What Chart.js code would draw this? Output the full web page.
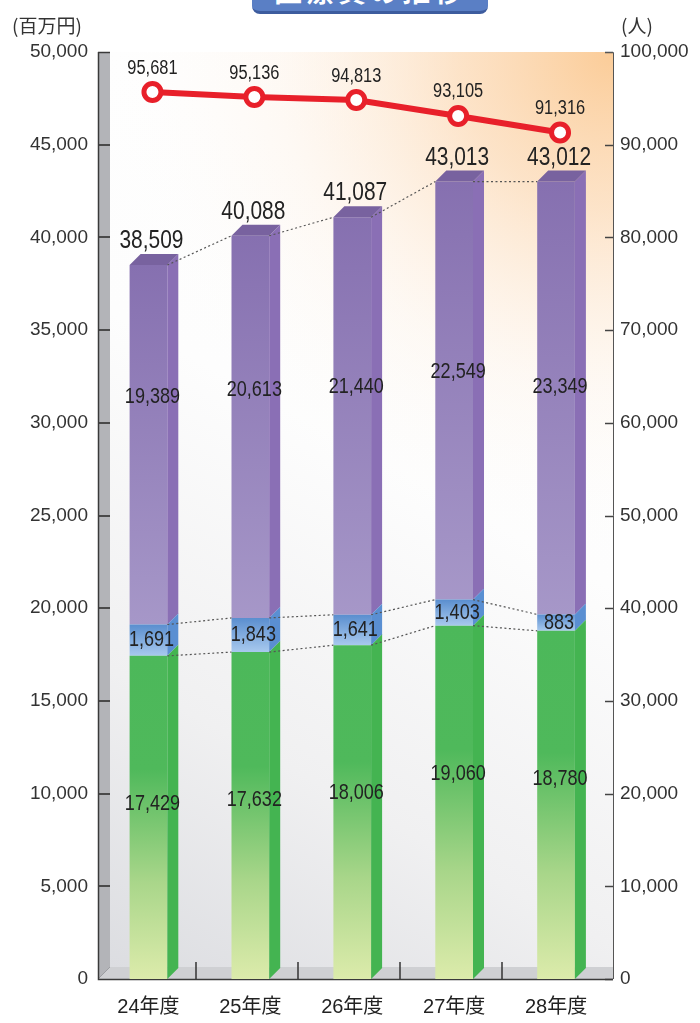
<!DOCTYPE html>
<html><head><meta charset="utf-8">
<style>
html,body{margin:0;padding:0;background:#fff;}
#wrap{position:relative;width:700px;height:1023px;overflow:hidden;background:#fff;}
canvas{position:absolute;left:0;top:0;}
#title{position:absolute;left:252px;top:-30px;width:236px;height:41px;background:#5a7fc5;border-bottom:3px solid #3d5c9e;border-radius:0 0 8px 8px;color:#fff;font:bold 28px 'Noto Sans CJK JP',sans-serif;text-align:center;line-height:40px;letter-spacing:4px;}
.unit{position:absolute;top:15px;font:19px 'Noto Sans CJK JP',sans-serif;line-height:19px;color:#333;white-space:nowrap;}
</style>
<script src="https://cdn.jsdelivr.net/npm/chart.js@4"></script>
</head><body>
<div id="wrap">
<canvas id="c" width="700" height="1023"></canvas>
<div id="title">医療費の推移</div>
<div class="unit" style="left:12px">(百万円)</div>
<div class="unit" style="left:621px">(人)</div>
</div>
<script>
const categories = ['24年度','25年度','26年度','27年度','28年度'];
const greenValues = [17429,17632,18006,19060,18780];
const blueValues = [1691,1843,1641,1403,883];
const purpleValues = [19389,20613,21440,22549,23349];
const totalLabels = [38509,40088,41087,43013,43012];
const peopleValues = [95681,95136,94813,93105,91316];
const leftAxisMax = 50000, leftAxisStep = 5000;
const rightAxisMax = 100000, rightAxisStep = 10000;

const segValues = [greenValues, blueValues, purpleValues];
const segBase = [
  greenValues.map(()=>0),
  greenValues.slice(),
  greenValues.map((g,i)=>g+blueValues[i])
];
const fmt = v => Number(v).toLocaleString('en-US');
const DEPTH = 11;
const LINE_SHIFT = 4;

const gradStops = [
  [[0,'#4cb85a'],[0.35,'#4fb95b'],[0.7,'#a9d68a'],[1,'#dcebab']],
  [[0,'#5a8ecf'],[1,'#a8c9ee']],
  [[0,'#8670b0'],[1,'#a697c8']]
];
const sideColors = ['#44b451','#5a8fd2','#8a6fb5'];

function segFill(seg){
  return function(ctx){
    const chart = ctx.chart;
    if(!chart.chartArea || ctx.type!=='data') return gradStops[seg][0][1];
    const i = ctx.dataIndex;
    const ys = chart.scales.y;
    const y0 = ys.getPixelForValue(segBase[seg][i]+segValues[seg][i]);
    const y1 = ys.getPixelForValue(segBase[seg][i]);
    const g = chart.ctx.createLinearGradient(0,y0,0,y1);
    gradStops[seg].forEach(s=>g.addColorStop(s[0],s[1]));
    return g;
  };
}

function narrowText(ctx, text, x, y, size, sx){
  ctx.save();
  ctx.translate(x,y);
  ctx.scale(sx||0.82,1);
  ctx.font = size+'px "Liberation Sans", Arial, sans-serif';
  ctx.fillStyle = '#222';
  ctx.textAlign = 'center';
  ctx.textBaseline = 'middle';
  ctx.fillText(text,0,0);
  ctx.restore();
}

const decor = {
  id:'decor',
  beforeDatasetsDraw(chart){
    const ctx = chart.ctx;
    const ys = chart.scales.y;
    const L = 98, W = 110, R = 613, T = 52, B = 979, F = 967;
    ctx.save();
    // panel background: gray-white diagonal base
    const g = ctx.createLinearGradient(R, T, W, F);
    g.addColorStop(0,'#ffffff');
    g.addColorStop(0.45,'#fdfdfd');
    g.addColorStop(0.75,'#f0f0f1');
    g.addColorStop(1,'#dcdde1');
    ctx.fillStyle = g;
    ctx.fillRect(W, T, R-W, F-T);
    // peach glow from top-right corner
    const r = ctx.createRadialGradient(R, T, 0, R, T, 520);
    r.addColorStop(0,'rgba(251,204,152,1)');
    r.addColorStop(0.3,'rgba(252,218,182,0.75)');
    r.addColorStop(0.65,'rgba(254,240,226,0.35)');
    r.addColorStop(1,'rgba(255,255,255,0)');
    ctx.fillStyle = r;
    ctx.fillRect(W, T, R-W, F-T);
    // floor
    ctx.fillStyle = '#cfd0d3';
    ctx.beginPath(); ctx.moveTo(L,B); ctx.lineTo(W,F); ctx.lineTo(R,F); ctx.lineTo(R,B); ctx.closePath(); ctx.fill();
    // wall
    ctx.fillStyle = '#b3b4b8';
    ctx.beginPath(); ctx.moveTo(L,T); ctx.lineTo(W,T); ctx.lineTo(W,F); ctx.lineTo(L,B); ctx.closePath(); ctx.fill();
    ctx.strokeStyle = '#9c9da1'; ctx.lineWidth = 1;
    ctx.beginPath(); ctx.moveTo(W,F); ctx.lineTo(L,B); ctx.stroke();
    // left ticks across wall
    ctx.strokeStyle = '#4a4a4a'; ctx.lineWidth = 2;
    for(let v=leftAxisStep; v<leftAxisMax; v+=leftAxisStep){
      const y = Math.round(ys.getPixelForValue(v));
      ctx.beginPath(); ctx.moveTo(L,y); ctx.lineTo(W,y); ctx.stroke();
    }
    // right ticks
    const y1s = chart.scales.y1;
    ctx.strokeStyle = '#444'; ctx.lineWidth = 1.5;
    for(let v=0; v<=rightAxisMax; v+=rightAxisStep){
      const y = Math.round(y1s.getPixelForValue(v))+0.5;
      ctx.beginPath(); ctx.moveTo(R-8,y); ctx.lineTo(R,y); ctx.stroke();
    }
    // x ticks in floor
    const xs = chart.scales.x;
    ctx.strokeStyle = '#333'; ctx.lineWidth = 1.5;
    for(let i=0;i<categories.length-1;i++){
      const x = Math.round((xs.getPixelForValue(i)+xs.getPixelForValue(i+1))/2) - 3;
      ctx.beginPath(); ctx.moveTo(x,962); ctx.lineTo(x,B); ctx.stroke();
    }
    // frame lines
    ctx.strokeStyle = '#3a3a3a'; ctx.lineWidth = 1.5;
    ctx.beginPath(); ctx.moveTo(L+0.5,T); ctx.lineTo(L+0.5,B+0.5); ctx.lineTo(R,B+0.5); ctx.stroke();
    ctx.beginPath(); ctx.moveTo(L,T+0.5); ctx.lineTo(W,T+0.5); ctx.stroke();
    ctx.strokeStyle = '#555'; ctx.lineWidth = 1;
    ctx.beginPath(); ctx.moveTo(R-8,T+0.5); ctx.lineTo(R+0.5,T+0.5); ctx.lineTo(R+0.5,B); ctx.stroke();
    ctx.restore();
  },
  beforeDatasetDraw(chart,args){
    if(args.index===3){ chart.ctx.save(); chart.ctx.translate(LINE_SHIFT,0); }
  },
  afterDatasetDraw(chart,args){
    const ctx = chart.ctx;
    const idx = args.index;
    if(idx===3){ ctx.restore(); return; }
    const meta = chart.getDatasetMeta(idx);
    ctx.save();
    meta.data.forEach((bar)=>{
      const p = bar.getProps(['x','y','base','width'],true);
      const x0 = p.x - p.width/2, x1 = p.x + p.width/2;
      ctx.fillStyle = sideColors[idx];
      ctx.beginPath();
      ctx.moveTo(x1,p.y); ctx.lineTo(x1+DEPTH,p.y-DEPTH); ctx.lineTo(x1+DEPTH,p.base-DEPTH); ctx.lineTo(x1,p.base);
      ctx.closePath(); ctx.fill();
      if(idx===2){
        ctx.fillStyle = '#78629f';
        ctx.beginPath();
        ctx.moveTo(x0,p.y); ctx.lineTo(x0+DEPTH,p.y-DEPTH); ctx.lineTo(x1+DEPTH,p.y-DEPTH); ctx.lineTo(x1,p.y);
        ctx.closePath(); ctx.fill();
      }
    });
    ctx.restore();
  },
  afterDatasetsDraw(chart){
    const ctx = chart.ctx;
    ctx.save();
    ctx.strokeStyle = '#555'; ctx.lineWidth = 1.2; ctx.setLineDash([2,2.5]);
    [0,1,2].forEach(idx=>{
      const bars = chart.getDatasetMeta(idx).data;
      for(let i=0;i<bars.length-1;i++){
        const a = bars[i].getProps(['x','y','width'],true);
        const b = bars[i+1].getProps(['x','y','width'],true);
        ctx.beginPath();
        ctx.moveTo(a.x+a.width/2, a.y);
        ctx.lineTo(b.x-b.width/2, b.y);
        ctx.stroke();
      }
    });
    ctx.restore();
  },
  afterDraw(chart){
    const ctx = chart.ctx;
    const bars = [0,1,2].map(i=>chart.getDatasetMeta(i).data);
    categories.forEach((c,i)=>{
      const g = bars[0][i], b = bars[1][i], p = bars[2][i];
      const cx = g.x + 4;
      narrowText(ctx, fmt(greenValues[i]), cx, g.y + 148, 22);
      narrowText(ctx, fmt(blueValues[i]), cx-1, (b.y+b.base)/2, 22);
      narrowText(ctx, fmt(purpleValues[i]), cx, p.base - 228, 22);
      narrowText(ctx, fmt(totalLabels[i]), g.x + 3, p.y - 24, 25.5);
    });
    const pts = chart.getDatasetMeta(3).data;
    pts.forEach((pt,i)=>{
      narrowText(ctx, fmt(peopleValues[i]), pt.x + LINE_SHIFT, pt.y - 24, 20);
    });
  }
};

const tickFont = {family:'"Liberation Sans", Arial, sans-serif', size:19};

new Chart(document.getElementById('c'), {
  type:'bar',
  data:{
    labels:categories,
    datasets:[
      {label:'green', data:greenValues, backgroundColor:segFill(0), order:1, yAxisID:'y'},
      {label:'blue', data:blueValues, backgroundColor:segFill(1), order:1, yAxisID:'y'},
      {label:'purple', data:purpleValues, backgroundColor:segFill(2), order:1, yAxisID:'y'},
      {label:'people', type:'line', data:peopleValues, yAxisID:'y1', order:0,
       borderColor:'#e8202a', borderWidth:6, tension:0,
       pointRadius:8.5, pointBorderWidth:5, pointBackgroundColor:'#ffffff', pointBorderColor:'#e8202a'}
    ]
  },
  options:{
    responsive:false, devicePixelRatio:1, animation:false, events:[],
    layout:{padding:{top:52,left:0,right:0,bottom:0}},
    datasets:{bar:{categoryPercentage:1, barPercentage:0.37, borderWidth:0}},
    plugins:{legend:{display:false}, tooltip:{enabled:false}},
    scales:{
      x:{stacked:true, grid:{display:false, drawTicks:false}, border:{display:false},
         ticks:{font:{family:'"Liberation Sans","Noto Sans CJK JP",sans-serif', size:20}, color:'#222', padding:16, maxRotation:0},
         afterFit(s){ s.height = 44; }},
      y:{stacked:true, min:0, max:leftAxisMax, position:'left',
         grid:{display:false, drawTicks:false}, border:{display:false},
         ticks:{stepSize:leftAxisStep, font:tickFont, color:'#333', padding:9.5, callback:v=>fmt(v)},
         afterFit(s){ s.width = 97.5; }},
      y1:{min:0, max:rightAxisMax, position:'right',
         grid:{display:false, drawTicks:false}, border:{display:false},
         ticks:{stepSize:rightAxisStep, font:tickFont, color:'#333', padding:13, callback:v=>fmt(v)},
         afterFit(s){ s.width = 93; }}
    }
  },
  plugins:[decor]
});
</script>
</body></html>
